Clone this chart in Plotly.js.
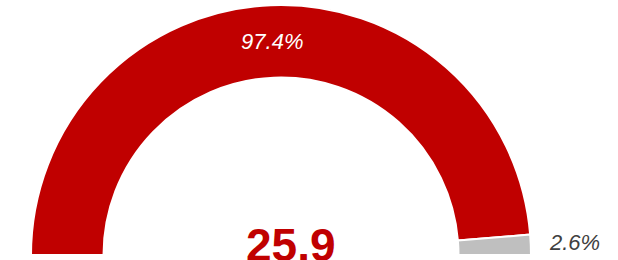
<!DOCTYPE html>
<html>
<head>
<meta charset="utf-8">
<script src="https://cdn.plot.ly/plotly-3.0.1.min.js"></script>
<style>
html,body{margin:0;padding:0;overflow:hidden;width:618px;height:260px;background:#fff;}
#chart{width:618px;height:510px;}
</style>
</head>
<body>
<div id="chart"></div>
<script>
// Data
var categories = ['Achieved', 'Remaining', 'Hidden'];
var shares = [97.4, 2.6, 100];
var sliceLabels = ['97.4%', '2.6%', ''];
var centerValue = '25.9';

var W = 618, H = 510;
var cx = 281, cy = 255, R = 250;

var trace = {
  type: 'pie',
  labels: categories,
  values: shares,
  text: [sliceLabels[0], '', ''],
  textinfo: 'text',
  hoverinfo: 'skip',
  sort: false,
  direction: 'clockwise',
  rotation: -90,
  hole: 0.71,
  showlegend: false,
  textposition: ['inside', 'none', 'none'],
  insidetextorientation: 'horizontal',
  marker: {
    colors: ['#C00000', '#BFBFBF', 'rgba(0,0,0,0)'],
    line: {color: '#FFFFFF', width: [2, 2, 0]}
  },
  textfont: {
    family: 'Liberation Sans, Arial, sans-serif',
    size: 22,
    style: 'italic',
    color: ['#FFFFFF', '#404040', 'rgba(0,0,0,0)']
  },
  domain: {
    x: [(cx - R) / W, (cx + R) / W],
    y: [(H - cy - R) / H, (H - cy + R) / H]
  }
};

var layout = {
  width: W,
  height: H,
  margin: {l: 0, r: 0, t: 0, b: 0, pad: 0},
  paper_bgcolor: '#FFFFFF',
  showlegend: false,
  annotations: [{
    text: '<b>' + centerValue + '</b>',
    xref: 'paper', yref: 'paper',
    x: 291 / W, y: 1 - 245 / H,
    xanchor: 'center', yanchor: 'middle',
    showarrow: false,
    font: {family: 'Liberation Sans, Arial, sans-serif', size: 46, color: '#C00000'}
  }, {
    text: sliceLabels[1],
    xref: 'paper', yref: 'paper',
    x: 547 / W, y: 1 - 242 / H,
    xanchor: 'left', yanchor: 'middle',
    showarrow: false,
    font: {family: 'Liberation Sans, Arial, sans-serif', size: 22, style: 'italic', color: '#404040'}
  }]
};

Plotly.newPlot('chart', [trace], layout, {displayModeBar: false, staticPlot: true});
</script>
</body>
</html>
